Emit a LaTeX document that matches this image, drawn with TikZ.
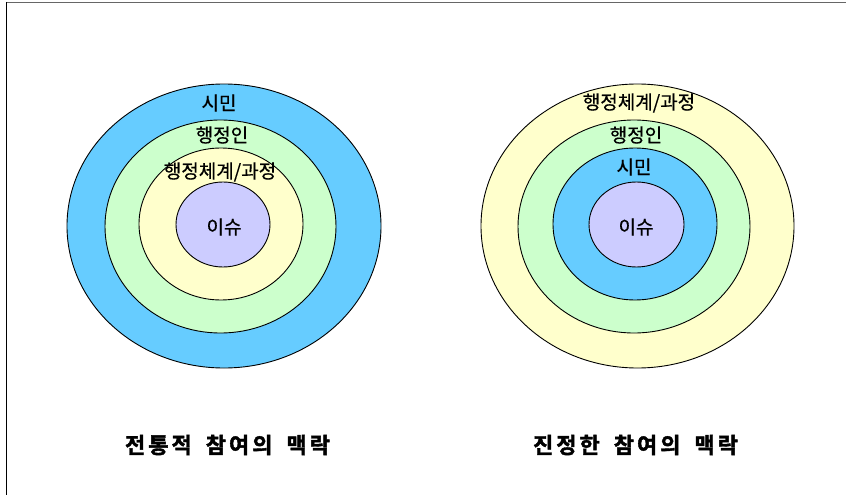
\documentclass[tikz,border=0pt]{standalone}
\usepackage{fontspec}
\newfontfamily\kr[FakeBold=0.5]{Noto Sans CJK KR}
\newfontfamily\krb[FakeBold=1.8]{Noto Sans CJK KR Bold}
\definecolor{cblue}{HTML}{66CCFF}
\definecolor{cgreen}{HTML}{CCFFCC}
\definecolor{cyellow}{HTML}{FFFFCC}
\definecolor{cpurple}{HTML}{CCCCFF}
\tikzset{
  ring/.style={draw=black, line width=0.9pt},
  lbl/.style={font=\kr\fontsize{19}{21}\selectfont, inner sep=0pt, text=black},
  ttl/.style={font=\krb\fontsize{22}{24}\selectfont, inner sep=0pt, text=black}
}
\begin{document}
\begin{tikzpicture}[x=1pt,y=-1pt]
\useasboundingbox (0,0) rectangle (846,495);
\fill[white] (0,0) rectangle (846,495);
% frame
\draw[gray!80!black, line width=1.3pt] (6,2.5) -- (846,2.5);
\draw[black, line width=1.8pt] (6.5,2) -- (6.5,495);
% left diagram
\draw[ring, fill=cblue] (224,226) ellipse [x radius=157, y radius=142];
\draw[ring, fill=cgreen] (220.5,226.5) ellipse [x radius=115.5, y radius=106.5];
\draw[ring, fill=cyellow] (221,224) ellipse [x radius=82, y radius=76];
\draw[ring, fill=cpurple] (223,224.5) ellipse [x radius=47, y radius=42.5];
\node[lbl] (l1) at (219,103) {시민};
\node[lbl] (l2) at (222,135) {행정인};
\node[lbl] (l3) at (220,172) {행정체계/과정};
\node[lbl] (l4) at (224,227) {이슈};
% right diagram
\draw[ring, fill=cyellow] (637.5,226) ellipse [x radius=156.5, y radius=142];
\draw[ring, fill=cgreen] (634,226.5) ellipse [x radius=116, y radius=106.5];
\draw[ring, fill=cblue] (635,224) ellipse [x radius=82, y radius=76];
\draw[ring, fill=cpurple] (636.5,224.5) ellipse [x radius=47.5, y radius=42.5];
\node[lbl] (r1) at (639,103) {행정체계/과정};
\node[lbl] (r2) at (636,135) {행정인};
\node[lbl] (r3) at (634,167) {시민};
\node[lbl] (r4) at (636,227) {이슈};
% titles
\node[ttl] (t1) at (227.5,445) {전\hspace{3pt}통\hspace{3pt}적\hspace{14pt}참\hspace{3pt}여\hspace{3pt}의\hspace{14pt}맥\hspace{3pt}락};
\node[ttl] (t2) at (635.5,445) {진\hspace{3pt}정\hspace{3pt}한\hspace{14pt}참\hspace{3pt}여\hspace{3pt}의\hspace{14pt}맥\hspace{3pt}락};
\end{tikzpicture}
\end{document}
